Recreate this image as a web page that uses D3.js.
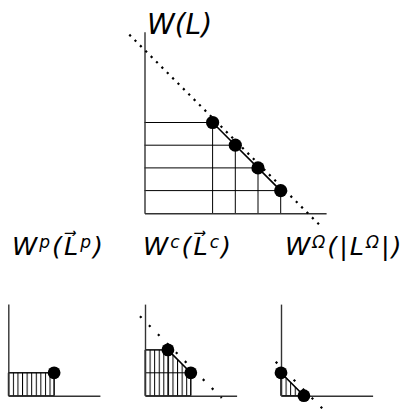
<!DOCTYPE html>
<html>
<head>
<meta charset="utf-8">
<script src="https://cdn.jsdelivr.net/npm/d3@7"></script>
<style>
  html, body { margin: 0; padding: 0; background: #fff; }
  svg { display: block; }
  text { font-family: "DejaVu Sans", sans-serif; font-style: italic; fill: #000; }
</style>
</head>
<body>
<svg id="chart" width="405" height="409"></svg>
<script>
// Axis range (in units) shared by all panels
const axisMax = 8;

// Large panel: W(L)
const mainPoints = [[3, 4], [4, 3], [5, 2], [6, 1]];
const mainBound = 7.2;              // dotted line x + y = bound
const mainBoundExtent = [-0.67, 7.73];

// Small panels: W^p, W^c, W^Ω
const smallPoints = [
  [[4, 2]],
  [[2, 4], [4, 2]],
  [[0, 2], [2, 0]]
];
const smallBounds = [null, 6.5, 2.5];
const smallBoundExtents = [null, [-0.44, 6.7], [-0.46, 3.6]];

const svg = d3.select("#chart");

// Panel frames (pixels)
const mainFrame = { x0: 144.5, y0: 213.3, size: 181.6 };
const smallFrames = [
  { x0: 8.3, y0: 395.7, size: 91.6 },
  { x0: 145, y0: 395.7, size: 91.6 },
  { x0: 281, y0: 395.7, size: 91.6 }
];

function drawPanel(frame, points, bound, boundExtent, opts, idx) {
  const x = d3.scaleLinear().domain([0, axisMax]).range([frame.x0, frame.x0 + frame.size]);
  const y = d3.scaleLinear().domain([0, axisMax]).range([frame.y0, frame.y0 - frame.size]);
  const g = svg.append("g");

  // hatched area under the staircase
  if (opts.hatch) {
    const step = x(0.4) - x(0);
    const pat = svg.append("defs").append("pattern")
      .attr("id", "hatch" + idx)
      .attr("patternUnits", "userSpaceOnUse")
      .attr("x", frame.x0).attr("y", 0)
      .attr("width", step).attr("height", 409);
    pat.append("line")
      .attr("x1", 0.5).attr("x2", 0.5).attr("y1", 0).attr("y2", 409)
      .attr("stroke", "#000").attr("stroke-width", 1);

    const poly = [[0, 0], [0, points[0][1]]].concat(points)
      .concat([[points[points.length - 1][0], 0]]);
    g.append("path")
      .attr("d", d3.line().x(d => x(d[0])).y(d => y(d[1]))(poly) + "Z")
      .attr("fill", "url(#hatch" + idx + ")")
      .attr("stroke", "#000").attr("stroke-width", 1);
  }

  // guide lines from the axes to each point
  points.forEach(p => {
    g.append("line")
      .attr("x1", x(0)).attr("x2", x(p[0]))
      .attr("y1", y(p[1])).attr("y2", y(p[1]))
      .attr("stroke", "#000").attr("stroke-width", 1);
    g.append("line")
      .attr("x1", x(p[0])).attr("x2", x(p[0]))
      .attr("y1", y(p[1])).attr("y2", y(0))
      .attr("stroke", "#000").attr("stroke-width", 1);
  });

  // axes: bare domain lines
  g.append("g").attr("transform", `translate(0,${frame.y0})`)
    .call(d3.axisBottom(x).tickValues([]).tickSizeOuter(0))
    .select(".domain").attr("stroke", "#333").attr("stroke-width", 1.6);
  g.append("g").attr("transform", `translate(${frame.x0},0)`)
    .call(d3.axisLeft(y).tickValues([]).tickSizeOuter(0))
    .select(".domain").attr("stroke", "#333").attr("stroke-width", 1.4);

  // dotted bound x + y = bound
  if (bound !== null) {
    g.append("line")
      .attr("x1", x(boundExtent[0])).attr("y1", y(bound - boundExtent[0]))
      .attr("x2", x(boundExtent[1])).attr("y2", y(bound - boundExtent[1]))
      .attr("stroke", "#000").attr("stroke-width", 2.2)
      .attr("stroke-dasharray", opts.dash);
  }

  // segment joining the points
  if (points.length > 1) {
    g.append("path")
      .attr("d", d3.line().x(d => x(d[0])).y(d => y(d[1]))(points))
      .attr("fill", "none").attr("stroke", "#000").attr("stroke-width", 1.6);
  }

  g.selectAll("circle.pt").data(points).join("circle")
    .attr("class", "pt")
    .attr("cx", d => x(d[0])).attr("cy", d => y(d[1]))
    .attr("r", opts.r).attr("fill", "#000");
}

drawPanel(mainFrame, mainPoints, mainBound, mainBoundExtent, { hatch: false, dash: "2.2 5.4", r: 6.6 }, 0);
smallFrames.forEach((f, i) =>
  drawPanel(f, smallPoints[i], smallBounds[i], smallBoundExtents[i], { hatch: true, dash: "2.2 10.5", r: 6.4 }, i + 1));

// Titles
svg.append("text").attr("x", 147).attr("y", 34).attr("font-size", 28).text("W(L)");

function label(xPos, parts) {
  const t = svg.append("text").attr("x", xPos).attr("y", 255)
    .attr("font-size", 25.5).attr("letter-spacing", 2);
  let raised = false;
  parts.forEach(([s, sup]) => {
    const ts = t.append("tspan").text(s);
    if (sup && !raised) { ts.attr("dy", -7).attr("font-size", 17); raised = true; }
    else if (!sup && raised) { ts.attr("dy", 7); raised = false; }
    else if (sup) { ts.attr("font-size", 17); }
  });
}
label(12, [["W", false], ["p", true], ["(L\u20D7", false], ["p", true], [")", false]]);
label(143, [["W", false], ["c", true], ["(L\u20D7", false], ["c", true], [")", false]]);
label(285, [["W", false], ["\u03A9", true], ["(|L", false], ["\u03A9", true], ["|)", false]]);
</script>
</body>
</html>
